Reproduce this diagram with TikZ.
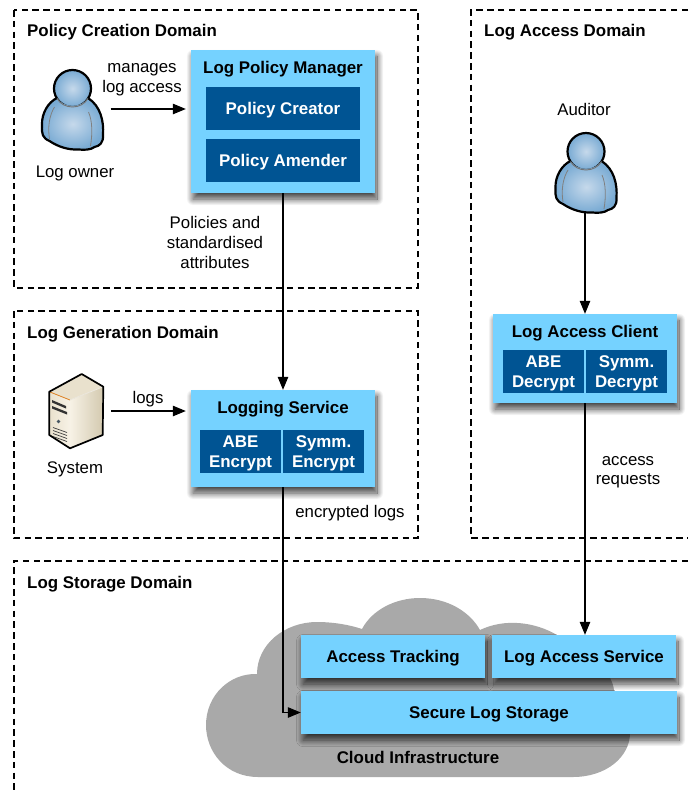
\documentclass[tikz,border=0pt]{standalone}
\usepackage{fontspec}
\setmainfont{Liberation Sans}
\usepackage{tikz}
\usetikzlibrary{arrows.meta,shadows.blur}

\definecolor{svcblue}{HTML}{75D2FF}
\definecolor{subblue}{HTML}{005493}
\definecolor{cloudgrey}{HTML}{A9A9A9}
\definecolor{personlight}{HTML}{C6D9EB}
\definecolor{persondark}{HTML}{78AAD3}
\definecolor{caselight}{HTML}{F7F2E6}
\definecolor{casemid}{HTML}{E9E1CD}
\definecolor{casedark}{HTML}{D3C9AF}

\newcommand{\bodyedge}{(-15.5,-11) .. controls (-24,-7) and (-31,4) .. (-30.5,16)
  .. controls (-31,25) and (-30,29) .. (-23,32)
  .. controls (-14,38) and (-4,41) .. (6,40.5)
  .. controls (12,41) and (18,41) .. (22,38)
  .. controls (27,37) and (31,34) .. (30.5,26)
  .. controls (31.5,12) and (28,-3) .. (15.5,-11)}

\tikzset{
  domainline/.style={dash pattern=on 6.5pt off 4.3pt,line width=1.1pt},
  domaintitle/.style={anchor=west,inner sep=0pt,text depth=0pt,font=\fontsize{16.9}{20}\selectfont\bfseries},
  plaintext/.style={inner sep=0pt,align=center,text depth=0pt,font=\fontsize{16.8}{20}\selectfont},
  svcbox/.style={fill=svcblue,inner sep=0pt,align=center,text depth=0pt,font=\fontsize{16.9}{20}\selectfont\bfseries,
    blur shadow={shadow xshift=2pt,shadow yshift=-6pt,shadow blur radius=6.5pt,shadow blur steps=20,shadow opacity=75}},
  subbox/.style={fill=subblue,text=white,inner sep=0pt,align=center,text depth=0pt,font=\fontsize{16.9}{20}\selectfont\bfseries},
  boldtext/.style={inner sep=0pt,text depth=0pt,font=\fontsize{16.9}{20}\selectfont\bfseries},
  flow/.style={->,line width=1.1pt},
  iconspot/.style={inner sep=0pt,minimum width=62pt,minimum height=80pt},
  personicon/.pic={
    \shade[inner color=personlight,outer color=persondark,draw=black,line width=2.2pt] (0,-20.5) circle (18.5);
    \shade[inner color=personlight,outer color=persondark] \bodyedge
      .. controls (9,-0.5) and (-9,-0.5) .. (-15.5,-11) -- cycle;
    \draw[line width=2.2pt,line join=round] \bodyedge;
    \draw[black!55,line width=0.9pt] (-15.5,-10.5) .. controls (-9,0.8) and (9,0.8) .. (15.5,-10.5);
    \draw[black!50,line width=0.8pt] (-18,-2) .. controls (-23,6) and (-25,18) .. (-23,30);
    \draw[black!50,line width=0.8pt] (16,3) .. controls (20,12) and (20,25) .. (18,37);
  },
  servericon/.pic={
    % Case
    \fill[left color=casemid,right color=caselight] (-26.7,-19.3) -- (-6,-11) -- (-6,37.3) -- (-26.7,24) -- cycle;
    \fill[left color=caselight,right color=casedark] (-6,-11) -- (27.3,-24.3) -- (26.7,24) -- (-6,37.3) -- cycle;
    \fill[casemid] (-26.7,-19.3) -- (5.7,-37) -- (27.3,-24.3) -- (-6,-11) -- cycle;
    \draw[orange!50!brown,line width=0.8pt] (-26.7,-19.3) -- (-6,-11);
    \draw[white!60!casedark,line width=0.8pt] (-6,-11) -- (27.3,-24.3);
    \draw[line width=1.7pt,line join=round] (-26.7,-19.3) -- (5.7,-37) -- (27.3,-24.3) -- (26.7,24) -- (-6,37.3) -- (-26.7,24) -- cycle;
    % Drive bays
    \fill[black!80] (-24,-11) -- (-10,-5) -- (-10,-2.5) -- (-24,-8.5) -- cycle;
    \fill[black!80] (-24,-5) -- (-9,1) -- (-9,3.5) -- (-24,-2.5) -- cycle;
    \fill[black!70!cyan] (-17.5,10.5) circle (1.8);
    % Vents
    \foreach \y in {18,21,24,27} {
      \draw[black!75,line width=0.7pt] (-23,\y-1.5) -- (-9,\y+3.5);
    }
  },
}

\begin{document}
\begin{tikzpicture}[x=1pt,y=-1pt,>={Triangle[length=13pt,width=10.5pt]}]
  \useasboundingbox (0,0) rectangle (690,793);

  % Domains
  \draw[domainline] (14,10) rectangle (418,288);
  \draw[domainline] (14,311) rectangle (418,538);
  \draw[domainline] (688,10) -- (471,10) -- (471,538) -- (688,538);
  \draw[domainline] (688,561) -- (14,561) -- (14,793);
  \node[domaintitle] (policydomain) at (27,30) {Policy Creation Domain};
  \node[domaintitle] (gendomain) at (27,332) {Log Generation Domain};
  \node[domaintitle] (accessdomain) at (484,30) {Log Access Domain};
  \node[domaintitle] (storagedomain) at (27,582) {Log Storage Domain};

  % Cloud
  \fill[cloudgrey] (258,777) .. controls (226,777) and (206,752) .. (206,725)
    .. controls (206,695) and (230,673) .. (257,674)
    .. controls (257,644) and (285,622) .. (317,622)
    .. controls (334,622) and (350,625) .. (362,629)
    .. controls (372,610) and (395,598) .. (420,598)
    .. controls (448,598) and (470,612) .. (480,630)
    .. controls (505,618) and (535,622) .. (557,635)
    .. controls (590,650) and (612,672) .. (614,690)
    .. controls (628,705) and (630,720) .. (630,733)
    .. controls (630,757) and (606,777) .. (573,777) -- cycle;
  \node[boldtext] (cloudlabel) at (418,757) {Cloud Infrastructure};

  % Policy creation
  \node[iconspot] (owner) at (72.5,109) {};
  \pic at (owner) {personicon};
  \node[plaintext] (ownerlabel) at (75,172) {Log owner};
  \node[svcbox,minimum width=184pt,minimum height=143pt] (lpm) at (283,121.5) {};
  \node[boldtext] (lpmtitle) at (283,67) {Log Policy Manager};
  \node[subbox,minimum width=154pt,minimum height=43pt] (creator) at (283,108.5) {Policy Creator};
  \node[subbox,minimum width=154pt,minimum height=43pt] (amender) at (283,160.5) {Policy Amender};
  \node[plaintext] (manageslabel) at (142,78) {manages\\log access};
  \node[plaintext] (policieslabel) at (215,242) {Policies and\\standardised\\attributes};

  % Log generation
  \node[iconspot,minimum width=54pt,minimum height=74pt] (system) at (76,411) {};
  \pic at (system) {servericon};
  \node[plaintext] (systemlabel) at (75,468) {System};
  \node[svcbox,minimum width=184pt,minimum height=97pt] (logsvc) at (283,438.5) {};
  \node[boldtext] (logsvctitle) at (283,407) {Logging Service};
  \node[subbox,minimum width=81pt,minimum height=43pt] (abeenc) at (240.5,451.5) {ABE\\Encrypt};
  \node[subbox,minimum width=81pt,minimum height=43pt] (symenc) at (323.5,451.5) {Symm.\\Encrypt};
  \node[plaintext] (logslabel) at (148,397) {logs};
  \node[plaintext] (enclabel) at (350,511) {encrypted logs};

  % Log access
  \node[plaintext] (auditorlabel) at (584,109) {Auditor};
  \node[iconspot] (auditor) at (586,172) {};
  \pic at (auditor) {personicon};
  \node[svcbox,minimum width=184pt,minimum height=89pt] (client) at (585,358.5) {};
  \node[boldtext] (clienttitle) at (585,331) {Log Access Client};
  \node[subbox,minimum width=81pt,minimum height=43pt] (abedec) at (543.5,371.5) {ABE\\Decrypt};
  \node[subbox,minimum width=81pt,minimum height=43pt] (symdec) at (626.5,371.5) {Symm.\\Decrypt};
  \node[plaintext,font=\fontsize{16.8}{19}\selectfont] (requestlabel) at (628,470) {access\\requests};

  % Log storage
  \node[svcbox,minimum width=184pt,minimum height=43pt] (tracking) at (393,656.5) {Access Tracking};
  \node[svcbox,minimum width=184pt,minimum height=43pt] (logaccess) at (584,656.5) {Log Access Service};
  \node[svcbox,minimum width=376pt,minimum height=43pt] (storage) at (489,712.5) {Secure Log Storage};

  % Connectors
  \draw[flow,shorten <=7pt,shorten >=5pt] (owner.east) -- (owner.east -| lpm.west);
  \draw[flow,shorten <=8pt,shorten >=5pt] (system.east) -- (system.east -| logsvc.west);
  \draw[flow] (lpm.south) -- (logsvc.north);
  \draw[flow] (logsvc.south) |- (storage.west);
  \draw[flow] (auditor.south -| client.north) -- (client.north);
  \draw[flow] (client.south) -- (client.south |- logaccess.north);
\end{tikzpicture}
\end{document}
